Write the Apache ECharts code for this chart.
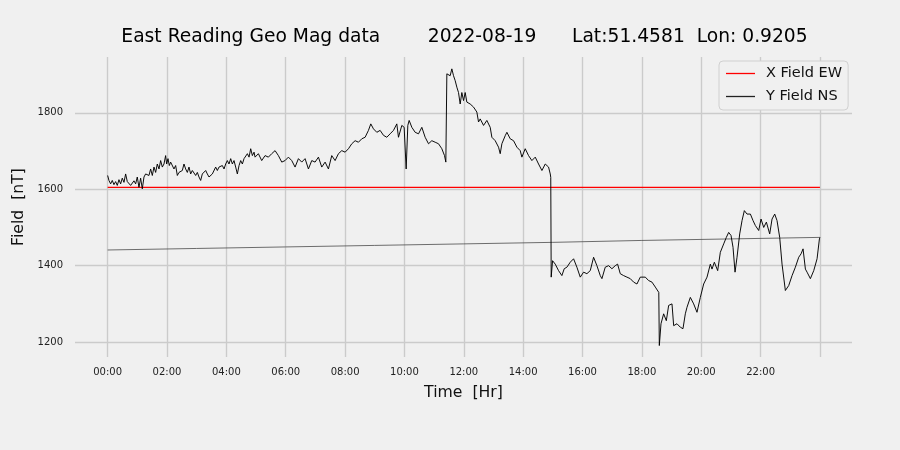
<!DOCTYPE html>
<html>
<head>
<meta charset="utf-8">
<script src="https://cdn.jsdelivr.net/npm/echarts@6/dist/echarts.min.js"></script>
<style>
html,body{margin:0;padding:0;background:#f0f0f0;}
#chart{width:900px;height:450px;}
</style>
</head>
<body>
<div id="chart"></div>
<script>
// ---- data (hours since midnight, field in nT) ----
const titleText = 'East Reading Geo Mag data        2022-08-19      Lat:51.4581  Lon: 0.9205';
const xTickHours = [0, 2, 4, 6, 8, 10, 12, 14, 16, 18, 20, 22, 24];
const xLabelHours = [0, 2, 4, 6, 8, 10, 12, 14, 16, 18, 20, 22];
const yTicks = [1200, 1400, 1600, 1800];

// X Field EW (red, flat)
const ewTime = [0, 4, 8, 12, 16, 20, 24];
const ewField = [1605, 1605, 1605, 1605, 1605, 1605, 1605];

// slow drifting trace (thin grey, unlabelled)
const zTime = [0, 3, 6, 9, 12, 15, 18, 21, 24];
const zField = [1441, 1445, 1449, 1453, 1457, 1461, 1466, 1470, 1474];

// Y Field NS (black)
const nsTime = [
  0.000,0.044,0.100,0.156,0.212,0.269,0.325,0.381,0.437,0.493,0.550,0.606,0.662,0.718,0.774,0.831,0.887,0.943,0.999,1.055,
  1.111,1.168,1.224,1.280,1.336,1.392,1.449,1.505,1.561,1.617,1.673,1.730,1.786,1.842,1.898,1.954,1.988,2.033,2.078,2.123,
  2.179,2.235,2.291,2.348,2.404,2.460,2.516,2.572,2.629,2.685,2.741,2.797,2.853,2.910,2.966,3.022,3.078,3.134,3.190,3.247,
  3.303,3.359,3.415,3.471,3.528,3.584,3.640,3.696,3.752,3.809,3.865,3.921,3.977,4.033,4.089,4.146,4.202,4.258,4.314,4.370,
  4.427,4.483,4.539,4.595,4.651,4.708,4.764,4.820,4.876,4.933,
  4.967,5.079,5.191,5.304,5.416,5.528,5.641,5.753,
  5.866,5.978,6.090,6.203,6.315,6.428,6.540,6.652,6.765,6.877,6.989,7.102,7.214,7.327,7.439,7.551,
  7.664,7.776,7.889,8.001,8.114,8.226,8.338,8.451,8.563,8.675,8.788,8.866,8.956,9.069,9.181,9.294,9.406,9.518,9.631,9.743,
  9.799,9.912,9.990,10.058,10.114,10.159,10.249,10.361,10.474,10.586,10.698,10.811,10.923,11.035,11.148,11.260,11.350,11.395,
  11.429,11.485,11.541,11.597,11.654,11.710,11.766,11.822,11.878,11.934,11.991,12.047,12.103,12.215,12.328,12.440,12.496,12.553,
  12.665,12.777,12.890,12.946,13.058,13.171,13.227,13.283,13.395,13.452,13.564,13.676,13.789,13.901,13.957,14.070,14.182,14.294,
  14.407,14.519,14.632,14.744,14.856,14.913,14.930,
  14.945,14.991,15.081,15.193,15.305,15.384,15.474,15.586,15.699,15.811,15.924,16.036,16.148,16.261,16.373,16.485,16.598,16.654,
  16.766,16.879,16.991,17.104,17.182,17.272,17.385,17.497,17.609,17.722,17.834,17.946,
  18.116,18.228,18.340,18.453,18.509,18.570,18.588,18.644,18.734,18.824,18.902,19.015,19.071,19.183,19.296,19.385,19.464,19.520,
  19.633,19.745,19.857,19.970,20.082,20.195,20.307,20.363,20.442,20.554,20.644,20.757,20.846,20.925,21.004,21.071,21.139,21.206,
  21.296,21.375,21.453,21.543,21.656,21.745,21.824,21.937,22.015,22.105,22.195,22.307,22.386,22.476,22.554,22.644,22.723,22.835,
  22.948,23.060,23.172,23.285,23.364,23.431,23.510,23.566,23.678,23.791,23.903,23.982,24.000
];
const nsField = [
  1636,1623,1614,1623,1612,1620,1610,1625,1614,1629,1618,1640,1620,1625,1610,1608,1622,1614,1632,1605,
  1629,1601,1632,1640,1644,1636,1653,1636,1658,1644,1666,1653,1675,1658,1666,1688,1666,1680,1662,1671,
  1666,1653,1662,1636,1644,1640,1649,1666,1653,1644,1658,1640,1649,1653,1636,1644,1632,1623,1640,1636,
  1649,1640,1632,1636,1640,1644,1658,1649,1658,1653,1662,1653,1666,1675,1666,1680,1666,1675,1658,1640,
  1662,1675,1666,1680,1684,1693,1684,1706,1688,1697,
  1684,1693,1675,1688,1684,1693,1701,1688,
  1671,1675,1684,1675,1658,1680,1671,1680,1653,1675,1671,1684,1658,1671,1653,1688,
  1675,1693,1701,1697,1706,1719,1727,1723,1732,1736,1754,1771,1758,1749,1754,1741,1736,1745,1754,1771,
  1736,1767,1762,1653,1767,1780,1762,1749,1745,1762,1736,1719,1727,1723,1719,1706,1688,1671,
  1902,1906,1897,1915,1897,1884,1867,1853,1823,1853,1832,1853,1828,1823,1815,1802,1776,1784,
  1767,1780,1762,1736,1727,1710,1693,1719,1740,1749,1732,1727,1710,1701,1684,1706,1688,1675,
  1684,1666,1649,1666,1658,1640,1631,
  1370,1413,1404,1387,1374,1392,1396,1409,1418,1396,1370,1383,1379,1387,1422,1400,1374,1366,
  1396,1400,1392,1400,1404,1379,1374,1370,1366,1357,1352,1370,
  1370,1361,1357,1344,1339,1330,1191,1248,1274,1256,1296,1300,1243,1248,1239,1235,1274,1291,
  1317,1300,1278,1317,1352,1370,1404,1391,1409,1387,1435,1457,1474,1487,1479,1448,1383,1422,
  1483,1518,1544,1535,1535,1518,1505,1492,1522,1500,1514,1483,1522,1535,1518,1474,1404,1335,
  1348,1374,1396,1422,1431,1444,1391,1383,1366,1387,1418,1470,1474
];

const pairs = (t, v) => t.map((x, i) => [x, v[i]]);
const FONT = 'DejaVu Sans';

const chart = echarts.init(document.getElementById('chart'), null, {renderer: 'canvas'});
chart.setOption({
  animation: false,
  backgroundColor: '#f0f0f0',
  textStyle: {fontFamily: FONT},
  title: {
    text: titleText,
    left: 459.5,
    top: 23,
    textAlign: 'center',
    textStyle: {fontFamily: FONT, fontSize: 18.7, fontWeight: 'normal', color: '#000'}
  },
  legend: {
    orient: 'vertical',
    left: 719,
    top: 61,
    padding: [5, 6, 6, 7],
    itemGap: 8,
    itemWidth: 29,
    itemHeight: 1.3,
    icon: 'rect',
    backgroundColor: '#f0f0f0',
    borderColor: '#d0d0d0',
    borderWidth: 1,
    borderRadius: 4,
    textStyle: {fontFamily: FONT, fontSize: 14.5, color: '#111', lineHeight: 14, padding: [0, 0, 0, 6]},
    data: ['X Field EW', 'Y Field NS']
  },
  grid: {left: 75, right: 48, top: 57, bottom: 93, containLabel: false, outerBoundsMode: 'none'},
  xAxis: {
    type: 'value',
    min: -1.1,
    max: 25.08,
    name: 'Time  [Hr]',
    nameLocation: 'middle',
    nameGap: 28,
    nameTextStyle: {fontFamily: FONT, fontSize: 15.7, color: '#111'},
    axisLine: {show: false},
    axisTick: {show: false, customValues: xTickHours},
    axisLabel: {
      customValues: xLabelHours,
      margin: 10,
      fontSize: 10,
      color: '#222',
      fontFamily: FONT,
      formatter: v => String(Math.round(v)).padStart(2, '0') + ':00'
    },
    splitLine: {show: true, lineStyle: {color: '#cbcbcb', width: 1.4}}
  },
  yAxis: {
    type: 'value',
    min: 1161,
    max: 1946,
    name: 'Field  [nT]',
    nameLocation: 'middle',
    nameGap: 40,
    nameTextStyle: {fontFamily: FONT, fontSize: 15.7, color: '#111'},
    axisLine: {show: false},
    axisTick: {show: false, customValues: yTicks},
    axisLabel: {customValues: yTicks, margin: 12, fontSize: 10, color: '#222', fontFamily: FONT,
      formatter: v => String(v)},
    splitLine: {show: true, lineStyle: {color: '#cbcbcb', width: 1.4}}
  },
  series: [
    {
      name: 'Z trace',
      type: 'line',
      data: pairs(zTime, zField),
      showSymbol: false,
      lineStyle: {color: '#4a4a4a', width: 0.8},
      itemStyle: {color: '#4a4a4a'},
      z: 2
    },
    {
      name: 'X Field EW',
      type: 'line',
      data: pairs(ewTime, ewField),
      showSymbol: false,
      lineStyle: {color: '#ff0000', width: 1.2},
      itemStyle: {color: '#ff0000'},
      z: 3
    },
    {
      name: 'Y Field NS',
      type: 'line',
      data: pairs(nsTime, nsField),
      showSymbol: false,
      lineStyle: {color: '#000000', width: 0.95},
      itemStyle: {color: '#222222'},
      z: 4
    }
  ]
});
</script>
</body>
</html>
